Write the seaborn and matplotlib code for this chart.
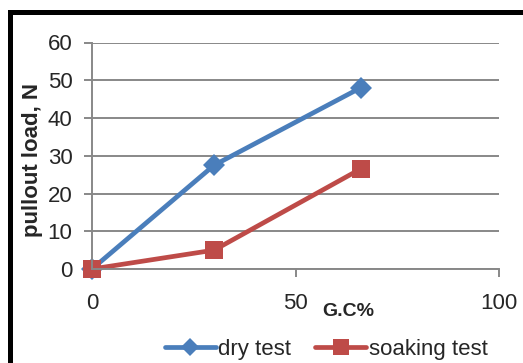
import matplotlib
matplotlib.use("Agg")
import matplotlib.pyplot as plt
import seaborn as sns
import pandas as pd
from matplotlib.patches import Rectangle
from matplotlib.lines import Line2D

# Pullout load vs. G.C% for the two test conditions
gc_percent = [0, 30, 66]
dry_test = [0, 27.5, 48]
soaking_test = [0, 5, 26.5]
series_names = ["dry test", "soaking test"]

df = pd.DataFrame({
    "G.C%": gc_percent * 2,
    "load": dry_test + soaking_test,
    "test": [series_names[0]] * len(gc_percent) + [series_names[1]] * len(gc_percent),
})

sns.set_theme(style="white")
plt.rcParams["font.family"] = ["Liberation Sans", "DejaVu Sans"]

BLUE = "#4A7EBB"
RED = "#BE4B48"
GRID = "#888888"

fig = plt.figure(figsize=(5.23, 3.63), dpi=100)
ax = fig.add_axes([92 / 523, 1 - 269 / 363, (499 - 92) / 523, (269 - 42.5) / 363])

sns.lineplot(
    data=df, x="G.C%", y="load", hue="test", style="test",
    palette={series_names[0]: BLUE, series_names[1]: RED},
    markers={series_names[0]: "D", series_names[1]: "s"},
    dashes=False, linewidth=3.4, markeredgewidth=0,
    ax=ax, legend=False,
)
for line, ms in zip(ax.get_lines(), [11.5, 13.5]):
    line.set_markersize(ms)
    line.set_clip_on(False)
    line.set_solid_joinstyle("round")

ax.set_xlim(0, 100)
ax.set_ylim(0, 60)
ax.set_xticks([0, 50, 100])
ax.set_yticks(range(0, 61, 10))
ax.yaxis.grid(True, color=GRID, linewidth=1.4)
ax.xaxis.grid(False)
ax.set_axisbelow(True)

for side in ["top", "right"]:
    ax.spines[side].set_visible(False)
for side in ["left", "bottom"]:
    ax.spines[side].set_color(GRID)
    ax.spines[side].set_linewidth(1.4)

ax.tick_params(axis="y", which="major", direction="out", length=6, width=1.4,
               color=GRID, labelsize=16, pad=8, left=True)
ax.tick_params(axis="x", which="major", direction="out", length=6, width=1.4,
               color=GRID, labelsize=16, pad=11, bottom=True)

ax.set_xlabel("")
ax.set_ylabel("pullout load, N", fontsize=16, fontweight="bold", labelpad=2)
ax.yaxis.set_label_coords(-0.12, 0.48)
fig.text(348 / 523, 1 - 311 / 363, "G.C%", fontsize=14, fontweight="bold",
         ha="center", va="center")

# Legend below the plot
handles = [
    Line2D([], [], color=BLUE, lw=3.4, marker="D", ms=9, markeredgewidth=0),
    Line2D([], [], color=RED, lw=3.4, marker="s", ms=11, markeredgewidth=0),
]
fig.legend(handles, series_names, loc="center", bbox_to_anchor=(326 / 523, 1 - 349 / 363),
           ncol=2, frameon=False, fontsize=16, handlelength=2.3, handletextpad=0.1,
           columnspacing=1.1, borderaxespad=0)

# Chart frame: heavy black border along the top and left edges
fig.add_artist(Rectangle((8 / 523, -0.1), 4.5 / 523, 1.1 - 10 / 363,
                         transform=fig.transFigure, color="black", lw=0))
fig.add_artist(Rectangle((8 / 523, 1 - 15 / 363), 1.0, 5 / 363,
                         transform=fig.transFigure, color="black", lw=0))

fig.savefig("out.png", dpi=100)
